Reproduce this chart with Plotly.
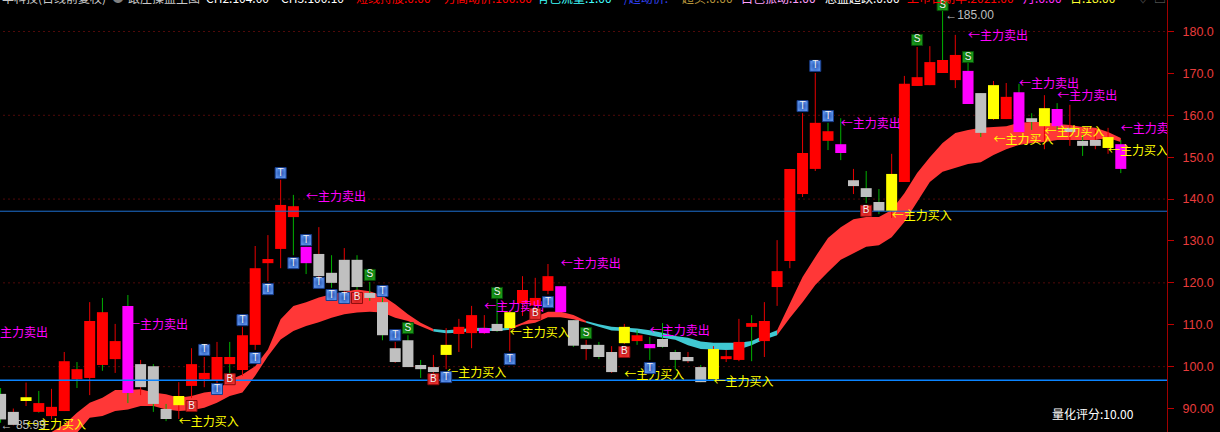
import plotly.graph_objects as go

# ---- candles ----
body_color = list("GGYRRRRRRRMGGGYRRRRRRRRRMGGGGGGGGGGYRRMGYRRRMGGGGYRMGGGGYRRRRRRRRRMGGGYRRRRRMGYRMGYMGGGYM")
high = [94.9,90.0,96.2,94.2,94.7,103.5,101.1,115.4,116.4,110.2,117.1,101.6,100.6,91.1,96.3,104.4,102.3,105.9,105.9,109.5,
        128.8,131.4,144.6,141.0,128.6,133.3,126.6,128.3,126.6,120.2,116.5,105.9,107.5,101.6,102.8,109.2,111.4,114.5,112.3,116.1,
        113.3,121.6,121.2,124.5,119.2,111.1,106.4,105.9,104.9,110.2,108.7,107.1,110.4,104.0,103.5,100.4,104.9,104.0,111.4,112.3,
        115.4,130.2,147.2,160.5,170.1,158.2,159.3,147.2,146.7,142.4,150.8,169.4,176.3,176.5,185.0,179.2,172.5,165.3,168.2,167.7,
        167.5,160.5,164.8,162.9,162.5,155.3,156.5,157.0,154.1]
body_top = [93.5,89.2,92.7,91.3,90.4,101.3,99.4,110.9,113.0,106.1,114.5,100.6,100.1,89.9,93.0,100.6,98.5,102.3,102.3,107.5,
            123.5,125.7,138.6,138.3,128.6,126.9,122.4,125.5,125.5,117.6,115.4,104.4,106.3,100.4,99.9,105.2,109.5,112.3,109.2,110.2,
            113.0,118.3,116.4,121.6,119.2,111.1,105.2,105.2,103.5,109.5,107.5,105.4,106.6,103.5,102.3,99.9,104.2,102.5,105.9,110.4,
            110.9,122.8,147.2,151.0,158.2,156.2,153.1,144.5,142.6,139.3,146.0,167.5,169.1,172.7,173.2,174.4,170.6,165.3,167.2,164.4,
            165.5,159.3,161.7,161.5,157.0,153.9,154.1,154.8,153.1]
body_bottom = [87.4,86.1,91.8,89.2,88.2,89.4,97.0,97.3,100.4,101.8,93.7,95.1,91.1,87.5,90.8,95.4,97.0,96.8,100.6,99.2,
               105.2,124.7,128.1,135.7,124.7,121.6,120.0,118.1,119.0,116.4,107.5,101.1,99.9,99.4,98.7,102.8,107.8,108.0,108.0,108.5,
               109.2,115.1,114.6,118.1,113.0,105.0,104.2,102.3,98.7,105.6,106.1,104.4,104.7,101.6,101.3,96.3,97.0,101.8,101.6,109.5,
               106.1,119.0,125.2,141.2,147.2,153.9,151.0,143.1,140.5,137.2,137.2,144.1,167.0,167.2,170.1,168.4,162.7,155.8,159.1,159.1,
               156.0,158.4,157.4,157.4,156.0,152.7,152.7,152.2,147.2]
low = [86.6,85.99,90.6,89.0,87.4,89.4,94.9,93.2,99.0,98.5,91.3,93.2,89.2,87.0,87.5,92.5,95.1,95.4,97.8,97.8,
       104.0,120.4,123.5,126.6,122.1,120.8,118.8,117.7,118.3,115.7,106.3,100.9,99.9,97.3,97.0,99.4,103.5,104.4,107.8,108.3,
       103.7,112.1,113.7,117.3,113.0,104.7,101.6,101.8,98.5,105.4,105.2,101.6,104.5,99.3,100.9,96.3,97.0,101.1,101.3,101.3,
       102.3,114.5,123.5,140.5,146.7,151.7,149.3,141.2,139.0,136.4,135.5,144.1,167.0,167.2,170.1,166.5,162.7,154.8,158.9,159.1,
       156.0,156.5,151.9,156.5,152.7,150.3,151.9,150.8,146.2]
green_wicks = [0,3,6,8,10,12,13,18,23,24,26,28,29,30,32,33,39,45,47,50,51,52,53,55,59,65,66,68,69,74,76,77,80,81,83,85,88]

# ---- band ----
band_index = list(range(4, 89))
band_top = [84.4,86.2,89.0,91.4,92.6,94.4,94.4,94.6,93.8,93.4,92.6,93.0,93.8,94.2,96.9,98.1,100.1,104.1,111.3,114.5,
            115.4,116.5,117.3,117.8,118.4,118.0,116.9,114.9,112.5,110.5,109.0,108.7,108.9,109.2,109.3,109.1,109.3,110.5,111.9,113.1,
            113.1,112.3,110.9,110.1,109.5,109.3,109.1,108.7,108.1,107.3,106.9,106.0,105.7,105.7,105.7,106.1,107.5,108.7,115.2,121.4,
            126.2,130.7,133.3,135.2,135.7,135.7,137.4,141.4,146.2,150.0,153.4,155.8,156.5,157.0,157.2,157.4,158.2,158.4,158.4,157.9,
            157.7,157.2,157.0,156.0,154.6]
band_bottom = [83.4,82.8,84.2,87.8,88.2,89.4,89.8,90.6,90.6,89.8,89.4,89.6,90.2,91.4,93.0,93.8,97.8,102.5,106.5,108.5,
               109.7,110.6,111.7,112.5,112.9,113.1,112.9,111.7,110.9,109.7,108.4,108.0,108.1,108.5,108.5,108.5,108.8,110.0,110.5,111.8,
               111.8,111.3,110.5,109.5,108.6,108.5,108.1,107.5,106.9,106.4,105.1,104.2,104.1,104.0,104.1,105.1,106.5,107.5,111.6,115.4,
               119.5,122.6,125.5,127.1,128.6,129.0,130.9,134.5,139.3,144.1,146.5,147.4,148.4,148.8,150.5,151.9,152.9,153.4,153.6,154.1,
               154.1,154.1,154.1,154.6,153.6]
band_segments = [(4, 34, "#FF3737"), (34, 40, "#40C8D2"), (40, 46, "#FF3737"), (46, 61, "#40C8D2"), (61, 88, "#FF3737")]

# ---- reference lines ----
dotted_levels = [180, 160, 140, 120, 100]
blue_levels = [137.1, 96.75]

# ---- labels ----
sell_x = [-1, 10, 24, 44, 38, 51, 66, 76, 80, 83, 88]
sell_y = [107.9, 109.8, 140.3, 124.3, 114.1, 108.3, 157.8, 178.8, 167.3, 164.4, 156.6]
buy_x = [2, 14, 35, 40, 49, 56, 70, 78, 82, 87]
buy_y = [85.9, 86.5, 98.3, 107.7, 97.8, 96.2, 135.8, 153.9, 155.7, 151.3]
sell_label = "←主力卖出"
buy_label = "←主力买入"

t_x = [16, 21, 19, 20, 17, 23, 24, 25, 26, 27, 30, 31, 22, 35, 40, 43, 51, 63, 65, 64]
t_y = [104.0, 118.5, 111.1, 102.05, 94.65, 124.7, 130.2, 120.0, 117.1, 116.4, 118.05, 107.5, 146.2, 97.5, 101.8, 115.4, 99.66, 162.2, 159.8, 171.8]
b_x = [15, 18, 28, 34, 42, 49, 68]
b_y = [90.6, 97.0, 116.4, 97.0, 112.6, 103.5, 137.2]
s_x = [29, 32, 39, 46, 72, 76, 74]
s_y = [121.9, 109.2, 117.6, 108.0, 178.0, 173.9, 186.3]

tick_vals = [180, 170, 160, 150, 140, 130, 120, 110, 100, 90]
tick_text = ["180.0", "170.0", "160.0", "150.0", "140.0", "130.0", "120.0", "110.0", "100.0", "90.00"]

header = [
    (0, "丰科技(日线前复权)", "#C8C8C8"), (110, "●", "#808080"), (126, "跟庄操盘主图", "#C8C8C8"),
    (204, "CH2:104.00", "#FFFFFF"), (279, "CH3:100.10", "#FFFFFF"),
    (354, "短线持股:0.00", "#FF0000"), (442, "万高动价:100.00", "#FF0000"),
    (535, "有色流量:1.00", "#40FFFF"), (622, "/超动价:", "#3040F0"),
    (680, "超买:0.00", "#B8963C"), (739, "白色振动:1.00", "#FFA0FF"),
    (823, "总盘超跌:0.00", "#FFFFFF"), (905, "上市日期率:2021.00", "#FF0000"),
    (1021, "月:6.00", "#FF30FF"), (1068, "日:18.00", "#FFFF30"),
    (1135, "♡", "#606060"), (1152, "▣", "#707070"),
]

CJK = "Noto Sans CJK SC, Liberation Sans"
fig = go.Figure()

# band polygons
for start, end, color in band_segments:
    ia, ib = start - 4, end - 4 + 1
    xs = band_index[ia:ib]
    fig.add_trace(go.Scatter(
        x=xs + xs[::-1],
        y=band_top[ia:ib] + band_bottom[ia:ib][::-1],
        mode="lines", fill="toself", fillcolor=color, line=dict(width=0, color=color),
        hoverinfo="skip", showlegend=False))

# wicks
for is_green, color in ((False, "#E80000"), (True, "#00B000")):
    xs, ys = [], []
    for i in range(len(high)):
        if (i in green_wicks) == is_green:
            xs += [i, i, None]
            ys += [low[i], high[i], None]
    fig.add_trace(go.Scatter(x=xs, y=ys, mode="lines", line=dict(width=1, color=color),
                             hoverinfo="skip", showlegend=False))

# candle bodies
for code, color in (("R", "#FF0000"), ("Y", "#FFFF00"), ("M", "#FF00FF"), ("G", "#C0C0C0")):
    xs, ys = [], []
    for i, c in enumerate(body_color):
        if c == code:
            xs += [i, i, None]
            ys += [body_bottom[i], body_top[i], None]
    fig.add_trace(go.Scatter(x=xs, y=ys, mode="lines", line=dict(width=11, color=color),
                             hoverinfo="skip", showlegend=False))

# blue horizontal lines
fig.add_trace(go.Scatter(x=[-2, 93], y=[blue_levels[0]] * 2, mode="lines",
                         line=dict(width=1, color="#1E6FD0"), hoverinfo="skip", showlegend=False))
fig.add_trace(go.Scatter(x=[-2, 93], y=[blue_levels[1]] * 2, mode="lines",
                         line=dict(width=1.5, color="#0A84FF"), hoverinfo="skip", showlegend=False))

# buy / sell text
fig.add_trace(go.Scatter(x=sell_x, y=sell_y, mode="text", text=[sell_label] * len(sell_x),
                         textposition="middle right", textfont=dict(family=CJK, size=12, color="#FF00FF"),
                         hoverinfo="skip", showlegend=False))
fig.add_trace(go.Scatter(x=buy_x, y=buy_y, mode="text", text=[buy_label] * len(buy_x),
                         textposition="middle right", textfont=dict(family=CJK, size=12, color="#FFFF00"),
                         hoverinfo="skip", showlegend=False))

# extremes
fig.add_trace(go.Scatter(x=[0, 74.2], y=[85.8, 183.6], mode="text", text=["← 85.99", "←185.00"],
                         textposition="middle right",
                         textfont=dict(family="Liberation Sans", size=12, color="#BEBEBE"),
                         hoverinfo="skip", showlegend=False))

# icons
for xs, ys, label, fill, outer, edge in ((t_x, t_y, "T", "#5A90E8", "#2450B0", "#173C8C"),
                                         (b_x, b_y, "B", "#EC3030", "#B01010", "#8C0C0C"),
                                         (s_x, s_y, "S", "#1C9C1C", "#056005", "#064E06")):
    fig.add_trace(go.Scatter(x=xs, y=ys, mode="markers+text", text=[label] * len(xs),
                             textposition="middle center",
                             textfont=dict(family="Liberation Sans", size=10, color="#F0F0F0"),
                             marker=dict(symbol="square", size=11, color=fill,
                                         gradient=dict(type="radial", color=outer),
                                         line=dict(width=1, color=edge)),
                             hoverinfo="skip", showlegend=False))

shapes = [dict(type="line", xref="paper", x0=0.003, x1=1, yref="y", y0=v, y1=v, layer="below",
               line=dict(color="#A01414", width=1, dash="1px 4px")) for v in dotted_levels]

annotations = [dict(xref="paper", yref="paper", x=px / 1167, y=1 + 2.5 / 432, xanchor="left", yanchor="middle",
                    text=txt, showarrow=False, font=dict(family=CJK, size=12, color=col))
               for px, txt, col in header]
annotations.append(dict(xref="paper", yref="paper", x=1050 / 1167, y=1 - 413 / 432, xanchor="left", yanchor="middle",
                        text="量化评分:10.00", showarrow=False, font=dict(family=CJK, size=12, color="#FFFFFF")))

fig.update_layout(
    width=1220, height=432, autosize=False,
    paper_bgcolor="#000000", plot_bgcolor="#000000",
    margin=dict(l=0, r=53, t=0, b=0),
    showlegend=False, shapes=shapes, annotations=annotations,
    xaxis=dict(visible=False, range=[-0.047, 91.63], fixedrange=True),
    yaxis=dict(side="right", range=[84.4, 187.52], showgrid=False, zeroline=False, fixedrange=True,
               showline=True, linecolor="#A00000", linewidth=1,
               ticks="outside", ticklen=6, tickcolor="#C00000", tickwidth=1,
               tickmode="array", tickvals=tick_vals, ticktext=tick_text, ticklabelstandoff=6,
               tickfont=dict(family="Liberation Sans", size=12.5, color="#E83C3C")),
)
fig.write_html("out.html", config=dict(displayModeBar=False),
               post_script="document.body.style.margin='0';document.body.style.background='#000';")
